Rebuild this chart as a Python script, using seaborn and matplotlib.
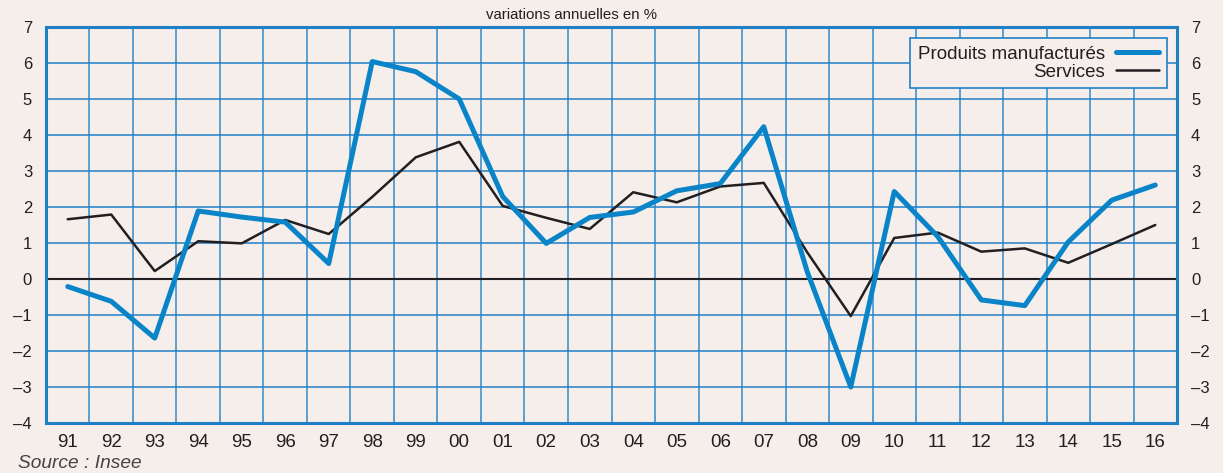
import numpy as np
import pandas as pd
import matplotlib
matplotlib.use("Agg")
import matplotlib.pyplot as plt
import seaborn as sns

# data
years = ["91", "92", "93", "94", "95", "96", "97", "98", "99", "00", "01", "02", "03",
         "04", "05", "06", "07", "08", "09", "10", "11", "12", "13", "14", "15", "16"]
manufactures = [-0.21, -0.62, -1.64, 1.89, 1.72, 1.58, 0.43, 6.04, 5.76, 5.0, 2.29, 0.99, 1.71,
                1.86, 2.45, 2.65, 4.23, 0.2, -3.0, 2.43, 1.18, -0.58, -0.74, 1.03, 2.19, 2.61]
services = [1.66, 1.79, 0.22, 1.05, 0.99, 1.64, 1.25, 2.28, 3.38, 3.81, 2.03, 1.7, 1.39,
            2.41, 2.13, 2.57, 2.67, 0.74, -1.03, 1.14, 1.29, 0.76, 0.85, 0.45, 0.97, 1.5]
y_ticks = list(range(-4, 8))
y_labels = [str(v).replace("-", "\u2013") for v in y_ticks]

bg = "#f5eeeb"
grid_blue = "#1f80c6"
line_blue = "#0a84c8"
ink = "#231f20"

sns.set_theme(style="white")
plt.rcParams["font.family"] = ["Liberation Sans", "DejaVu Sans"]

df = pd.DataFrame({
    "pos": np.arange(len(years)),
    "Produits manufacturés": manufactures,
    "Services": services,
})

fig = plt.figure(figsize=(12.23, 4.73), dpi=100, facecolor=bg)
ax = fig.add_axes([0.0376, 0.1057, 0.9248, 0.8372])
ax.set_facecolor(bg)

# grid: vertical lines between years, horizontal at each unit
for x in np.arange(-0.5, len(years), 1.0):
    ax.axvline(x, color=grid_blue, lw=1.1, alpha=0.9, zorder=1)
for y in y_ticks:
    ax.axhline(y, color=grid_blue, lw=1.1, zorder=1)
ax.axhline(0, color=ink, lw=1.5, zorder=2)

sns.lineplot(data=df, x="pos", y="Produits manufacturés", ax=ax, color=line_blue,
             lw=3.6, label="Produits manufacturés", zorder=4)
sns.lineplot(data=df, x="pos", y="Services", ax=ax, color=ink,
             lw=1.8, label="Services", zorder=3)

ax.set_xlim(-0.5, len(years) - 0.5)
ax.set_ylim(-4, 7)
ax.set_xticks(df["pos"])
ax.set_xticklabels(years, fontsize=13.5, color=ink)
ax.set_yticks(y_ticks)
ax.set_yticklabels(y_labels, fontsize=12, color=ink)
ax.tick_params(axis="both", length=0)
ax.tick_params(axis="x", pad=8)
ax.tick_params(axis="y", pad=10)
ax.set_xlabel("")
ax.set_ylabel("")
for s in ax.spines.values():
    s.set_color(grid_blue)
    s.set_linewidth(2.2)

ax2 = ax.twinx()
ax2.set_ylim(-4, 7)
ax2.set_yticks(y_ticks)
ax2.set_yticklabels(y_labels, fontsize=12, color=ink)
ax2.tick_params(axis="y", length=0, pad=10)
for s in ax2.spines.values():
    s.set_visible(False)

leg = ax.legend(loc="upper right", bbox_to_anchor=(0.991, 0.972), borderaxespad=0,
                markerfirst=False, fontsize=13.5, frameon=True, fancybox=False,
                facecolor=bg, edgecolor=grid_blue, framealpha=1, borderpad=0.4,
                labelspacing=0.05, handlelength=2.3, handletextpad=0.6)
leg.get_frame().set_linewidth(1.2)
for t in leg.get_texts():
    t.set_color(ink)

fig.text(0.467, 0.968, "variations annuelles en %", ha="center", va="center",
         fontsize=10.8, color=ink)
fig.text(0.015, 0.002, "Source : Insee", ha="left", va="bottom", fontsize=13.8,
         style="italic", color="#444444")

fig.savefig("out.png", dpi=100, facecolor=bg)
